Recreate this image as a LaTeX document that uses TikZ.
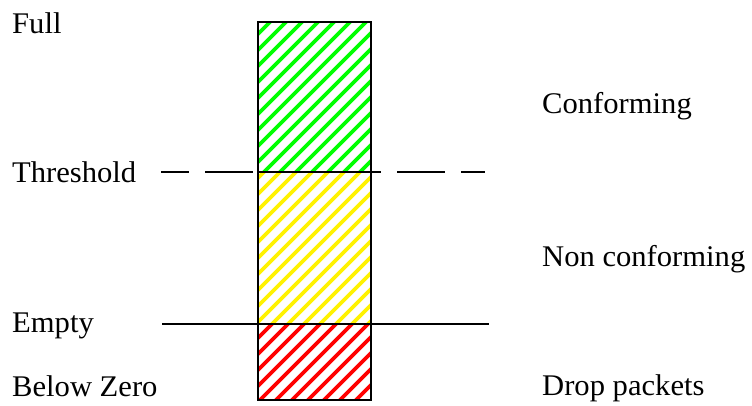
\documentclass[tikz,border=0pt]{standalone}
\usepackage{fontspec}
\setmainfont{Liberation Serif}
\newcommand{\wlab}[1]{\scalebox{1.02}[1]{#1}}
\begin{document}
\begin{tikzpicture}[x=1pt,y=-1pt,
  lab/.style={inner sep=0pt,anchor=base west,font=\fontsize{30}{32}\selectfont},
  hatchline/.style={line width=3.6pt},
  border/.style={line width=1.4pt,black},
  levelline/.style={line width=1.3pt,black}]
\useasboundingbox (0,0) rectangle (752,405);
% hatched regions
\begin{scope}
  \clip (258,22) rectangle (371,172);
  \foreach \c in {-400,-384,...,400} \draw[hatchline,green] (\c,420) -- (\c+420,0);
\end{scope}
\begin{scope}
  \clip (258,172) rectangle (371,324);
  \foreach \c in {-400,-384,...,500} \draw[hatchline,yellow] (\c,420) -- (\c+420,0);
\end{scope}
\begin{scope}
  \clip (258,324) rectangle (371,400);
  \foreach \c in {-400,-384,...,500} \draw[hatchline,red] (\c,420) -- (\c+420,0);
\end{scope}
% level lines
\coordinate (thL) at (161,172);
\coordinate (thR) at (485,172);
\coordinate (emL) at (162,324);
\coordinate (emR) at (489,324);
\draw[levelline,dash pattern=on 48pt off 16pt,dash phase=20pt] (thL) -- (thR);
\draw[levelline] (emL) -- (emR);
% bar
\draw[border] (258,22) rectangle (371,400);
\draw[border] (258,172) -- (371,172);
% labels
\node[lab] (full) at (12,33) {\wlab{Full}};
\node[lab] (thr) at (12,182) {\wlab{Threshold}};
\node[lab] (empty) at (12,332) {\wlab{Empty}};
\node[lab] (below) at (12,396) {\wlab{Below Zero}};
\node[lab] (conf) at (542,113) {\wlab{Conforming}};
\node[lab] (nonconf) at (542,266) {\wlab{Non conforming}};
\node[lab] (drop) at (542,395) {\wlab{Drop packets}};
\end{tikzpicture}
\end{document}
